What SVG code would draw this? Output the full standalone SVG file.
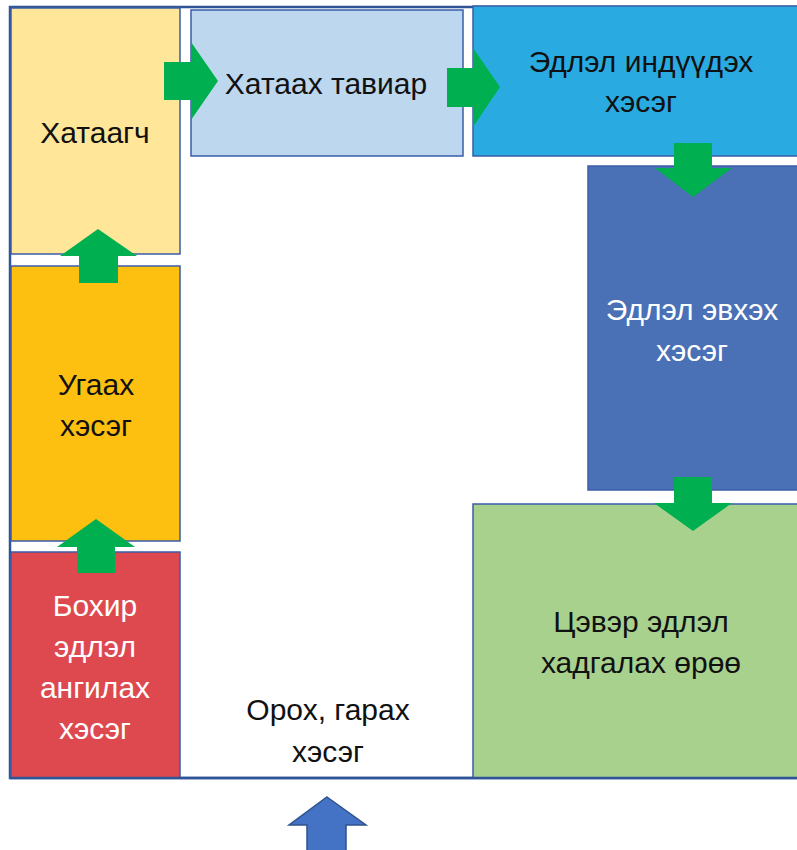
<svg xmlns="http://www.w3.org/2000/svg" width="797" height="850" viewBox="0 0 797 850">
<style>
.box{stroke:#3A5DA8;stroke-width:1.5}
.t{font-family:"Liberation Sans",Arial,sans-serif;font-size:30px;text-anchor:middle}
.dk{fill:#111}
.wh{fill:#fff}
.arr{fill:#00B050}
.frame{fill:none;stroke:#2F5597;stroke-width:2.5}
</style>
<rect width="797" height="850" fill="#fff"/>
<rect class="frame" x="10" y="7" width="800" height="771"/>
<g id="node-hataagch">
<rect class="box" x="11" y="8" width="169" height="246" fill="#FFE699"/>
<text class="t dk" x="95" y="143">Хатаагч</text>
</g>
<g id="node-ugaah">
<rect class="box" x="11" y="266" width="169" height="275" fill="#FDC011"/>
<text class="t dk" x="96" y="395">Угаах</text>
<text class="t dk" x="96" y="436">хэсэг</text>
</g>
<g id="node-bohir">
<rect class="box" x="11" y="552" width="169" height="226" fill="#DE494F"/>
<text class="t wh" x="95" y="616">Бохир</text>
<text class="t wh" x="95" y="657">эдлэл</text>
<text class="t wh" x="95" y="698">ангилах</text>
<text class="t wh" x="95" y="739">хэсэг</text>
</g>
<g id="node-tavi">
<rect class="box" x="191" y="10" width="272" height="146" fill="#BDD7EE"/>
<text class="t dk" x="326" y="94">Хатаах тавиар</text>
</g>
<g id="node-induudeh">
<rect class="box" x="473" y="6" width="330" height="150" fill="#29ABE2"/>
<text class="t dk" x="641" y="72">Эдлэл индүүдэх</text>
<text class="t dk" x="641" y="112">хэсэг</text>
</g>
<g id="node-evheh">
<rect class="box" x="588" y="166" width="215" height="324" fill="#4A70B6"/>
<text class="t wh" x="692" y="320">Эдлэл эвхэх</text>
<text class="t wh" x="692" y="361">хэсэг</text>
</g>
<g id="node-tsever">
<rect class="box" x="473" y="504" width="330" height="274" fill="#A9D18E"/>
<text class="t dk" x="641" y="632">Цэвэр эдлэл</text>
<text class="t dk" x="641" y="673">хадгалах өрөө</text>
</g>
<g id="node-oroh">
<text class="t dk" x="328" y="720">Орох, гарах</text>
<text class="t dk" x="328" y="762">хэсэг</text>
</g>
<line x1="10" y1="778" x2="797" y2="778" stroke="#2F5597" stroke-width="2.5"/>
<g id="connectors">
<polygon class="arr" points="164,62 191,62 191,42 218,81 191,120 191,100 164,100"/>
<polygon class="arr" points="447,68 473,68 473,48 500,87 473,127 473,107 447,107"/>
<polygon class="arr" points="674,143 712,143 712,168 732,168 693,197 655,168 674,168"/>
<polygon class="arr" points="674,477 712,477 712,503 732,503 693,531 654,503 674,503"/>
<polygon class="arr" points="98,229 137,256 118,256 118,283 79,283 79,256 60,256"/>
<polygon class="arr" points="96,519 135,547 115,547 115,573 77,573 77,547 57,547"/>
<polygon points="327,797 366,825 346,825 346,855 307,855 307,825 289,825" fill="#4472C4" stroke="#2F528F" stroke-width="1.5"/>
</g>
</svg>
